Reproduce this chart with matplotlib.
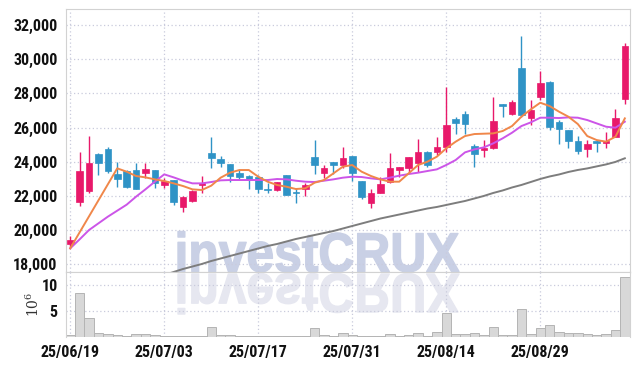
import matplotlib
matplotlib.use('Agg')
import matplotlib.pyplot as plt
from matplotlib.textpath import TextPath
from matplotlib.patches import PathPatch
from matplotlib.font_manager import FontProperties
from matplotlib.transforms import Affine2D
import numpy as np

# 일봉 데이터 (25/06/19 ~ 25/09/11)
opens = [19170, 21660, 22310, 24450, 24750, 23280, 23460, 23520, 23360, 23520,
         22640, 22930, 21330, 21720, 22620, 24530, 24160, 23870, 23360, 23170,
         23130, 22430, 22350, 23230, 22250, 22430, 24300, 23360, 23990, 23810,
         24340, 22870, 21610, 22190, 22840, 23520, 23650, 23950, 24570, 24550,
         24880, 26500, 26790, 24920, 24690, 24820, 27380, 26770, 29470, 26540,
         27770, 28670, 26310, 25860, 25210, 24770, 25210, 25080, 25470, 27690]
highs = [19660, 24590, 25510, 24490, 24860, 24000, 23520, 23950, 23910, 23520,
         23070, 22930, 22020, 22350, 23170, 25470, 24360, 23870, 23520, 23210,
         23230, 22780, 22840, 23230, 22480, 22740, 25270, 23810, 23990, 24840,
         24340, 22870, 22410, 23130, 24490, 23690, 24280, 25310, 24610, 25430,
         28350, 26640, 26950, 25040, 25270, 27770, 27380, 27610, 31360, 27610,
         29310, 28720, 26440, 25860, 25510, 25270, 25270, 25760, 27070, 30970]
lows = [18940, 21410, 22150, 23230, 23360, 22500, 22480, 22410, 23070, 22480,
        22480, 21470, 21080, 21670, 22190, 23620, 23710, 22840, 22970, 22390,
        22150, 22190, 22310, 22060, 21570, 22000, 23280, 23070, 23280, 23620,
        22890, 21800, 21280, 22190, 22780, 23130, 23400, 23400, 23710, 24400,
        24590, 25600, 25600, 23710, 24260, 24730, 26600, 26720, 26640, 26150,
        27610, 25860, 25040, 24790, 24450, 24300, 24590, 24790, 25430, 27380]
closes = [19420, 23460, 23910, 23950, 23460, 22990, 22520, 22430, 23580, 22780,
          22870, 21670, 21960, 22310, 22780, 24240, 23950, 23190, 23130, 22910,
          22430, 22350, 22820, 22060, 22150, 22640, 23830, 23640, 23830, 24200,
          23360, 21960, 22190, 22720, 23640, 23690, 24280, 24550, 23830, 24880,
          26150, 26290, 26210, 24450, 24820, 26380, 27260, 27480, 26740, 27030,
          28590, 26050, 25940, 25230, 24650, 25020, 25120, 25210, 26540, 30770]
volumes = [0.4, 8.4, 3.7, 0.8, 0.6, 0.4, 0.2, 0.6, 0.6, 0.4,
           0.2, 0.2, 0.2, 0.2, 0.2, 1.9, 0.4, 0.4, 0.2, 0.2,
           0.15, 0.15, 0.15, 0.15, 0.15, 0.15, 1.75, 0.4, 0.25, 0.8,
           0.4, 0.25, 0.2, 0.2, 0.6, 0.2, 0.4, 0.8, 0.2, 1.0,
           4.5, 0.6, 0.6, 0.8, 0.4, 1.9, 0.4, 0.4, 5.3, 0.6,
           1.75, 2.3, 1.0, 0.85, 0.85, 0.6, 0.4, 0.6, 1.35, 11.5]

# 이동평균선
ma_short = [18935, 19871, 20807, 21743, 22679, 23615, 23420, 23166, 23088, 22971,
            22874, 22737, 22581, 22386, 22347, 22601, 23069, 23361, 23517, 23517,
            23127, 22835, 22640, 22542, 22406, 22445, 22776, 22932, 23322, 23712,
            23810, 23420, 23166, 22971, 22835, 22835, 23322, 23810, 24005, 24297,
            24785, 25175, 25506, 25623, 25643, 25662, 25799, 26091, 26637, 27066,
            27456, 27261, 26930, 26637, 26208, 25506, 25272, 25175, 25467, 26540]
ma_mid = [18935, 19461, 20007, 20397, 20787, 21138, 21489, 21957, 22386, 22835,
          23264, 23088, 22893, 22737, 22737, 22815, 22913, 22932, 22932, 22932,
          22932, 22932, 22991, 22971, 22893, 22835, 22815, 22893, 22971, 23069,
          23127, 23108, 23030, 22971, 23069, 23186, 23283, 23361, 23459, 23556,
          23810, 24102, 24551, 24726, 24843, 25077, 25370, 25701, 26091, 26306,
          26579, 26579, 26560, 26598, 26579, 26442, 26247, 26052, 25994, 26345]
ma_long = [17375, 17550, 17726, 17872, 18019, 18194, 18340, 18487, 18633, 18779,
           18925, 19072, 19189, 19335, 19481, 19598, 19715, 19832, 19949, 20095,
           20242, 20388, 20534, 20680, 20797, 20914, 21031, 21148, 21265, 21355,
           21472, 21590, 21706, 21853, 22000, 22175, 22321, 22497, 22643, 22818,
           22994, 23140, 23257, 23404, 23520, 23611, 23729, 23845, 23992, 24204]
ma_long_start = 10

tick_pos = [0, 10, 20, 30, 40, 50]
tick_labels = ['25/06/19', '25/07/03', '25/07/17', '25/07/31', '25/08/14', '25/08/29']

UP = '#e8196a'
DOWN = '#2f93c6'
GRID = '#c9cbdc'

plt.rcParams['font.family'] = ['Roboto Condensed', 'Liberation Sans Narrow',
                               'Liberation Sans', 'DejaVu Sans']
plt.rcParams['mathtext.fontset'] = 'dejavuserif'

fig = plt.figure(figsize=(6.39, 3.66), dpi=100)
ax = fig.add_axes([66/639, 94/366, 564/639, 263/366])
axv = fig.add_axes([66/639, 29/366, 564/639, 65/366], sharex=ax)

x = np.arange(len(closes))

# 워터마크 + 반사
wm_prop = FontProperties(family=['Liberation Sans', 'DejaVu Sans'], weight='bold')
wm = TextPath((0, 0), 'investCRUX', size=100, prop=wm_prop)
cap = TextPath((0, 0), 'X', size=100, prop=wm_prop).get_extents().height
ext = wm.get_extents()
sx = 2.81 / ext.width
sy = 0.38 / cap
t_main = Affine2D().translate(-ext.x0, 0).scale(sx, sy).translate(1.78, 0.945) + fig.dpi_scale_trans
t_refl = Affine2D().translate(-ext.x0, 0).scale(sx, -sy).translate(1.78, 0.92) + fig.dpi_scale_trans
ax.add_patch(PathPatch(wm, transform=t_main, facecolor='#c9d0e5', edgecolor='#c9d0e5',
                       linewidth=1.0, joinstyle='round', zorder=0.5))
axv.add_patch(PathPatch(wm, transform=t_refl, facecolor='#e6e7f0', edgecolor='#e6e7f0',
                        linewidth=1.0, joinstyle='round', zorder=0.5))

# 캔들
for i in x:
    o, h, l, c = opens[i], highs[i], lows[i], closes[i]
    col = UP if c >= o else DOWN
    ax.vlines(i, l, h, color=col, linewidth=1, zorder=3)
    body = max(abs(c - o), 60)
    ax.bar(i, body, bottom=min(o, c), width=0.7, color=col, edgecolor=col,
           linewidth=0.5, zorder=4)

ax.plot(x[ma_long_start:], ma_long, color='#7d7d7d', linewidth=1.4, zorder=2.5)
ax.plot(x, ma_mid, color='#cc55e8', linewidth=1.4, zorder=5)
ax.plot(x, ma_short, color='#f0874a', linewidth=1.4, zorder=5)

ax.set_xlim(-0.45, 59.55)
ax.set_ylim(17550, 32940)
ax.set_yticks(range(18000, 32001, 2000))
ax.set_yticklabels([f'{v:,}' for v in range(18000, 32001, 2000)])
ax.tick_params(axis='y', length=0, pad=6, labelsize=11.5, labelcolor='#111111')
ax.tick_params(axis='x', length=0, labelbottom=False)
ax.set_xticks(tick_pos)
ax.grid(True, linestyle=(0, (1, 2)), color=GRID, linewidth=0.9)
for s in ax.spines.values():
    s.set_color('#d2d2d2')

# 거래량
axv.bar(x, volumes, width=1.0, color='#d8d8d8', edgecolor='#b4b4b4', linewidth=0.7, zorder=2)
axv.set_ylim(0, 12.4)
axv.set_yticks([5, 10])
axv.set_yticklabels(['5', '10'])
axv.set_xticks(tick_pos)
axv.set_xticklabels(tick_labels)
axv.tick_params(length=0, pad=6, labelsize=11.5, labelcolor='#111111')
axv.grid(True, linestyle=(0, (1, 2)), color=GRID, linewidth=0.9)
for s in axv.spines.values():
    s.set_color('#d2d2d2')
axv.spines['bottom'].set_visible(False)
axv.set_ylabel(r'$10^6$', fontsize=10, color='#333333')
axv.yaxis.set_label_coords(-0.043, 0.5)

for lab in ax.get_yticklabels() + axv.get_yticklabels() + axv.get_xticklabels():
    lab.set_fontweight('bold')

fig.savefig('out.png', dpi=100)
